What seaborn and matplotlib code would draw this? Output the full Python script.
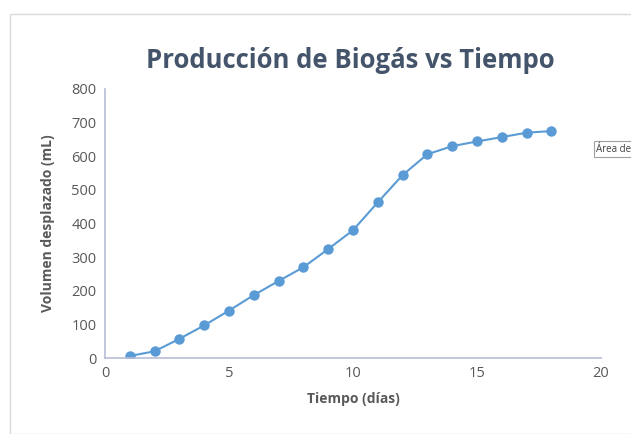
import matplotlib.pyplot as plt
import seaborn as sns
import pandas as pd
from matplotlib.patches import Rectangle

# datos
dias = [1, 2, 3, 4, 5, 6, 7, 8, 9, 10, 11, 12, 13, 14, 15, 16, 17, 18]
volumen = [6, 20, 57, 97, 141, 187, 229, 270, 324, 380, 463, 544, 606, 630, 644, 657, 670, 675]
xticks = [0, 5, 10, 15, 20]
yticks = [0, 100, 200, 300, 400, 500, 600, 700, 800]

df = pd.DataFrame({"Tiempo": dias, "Volumen": volumen})

sns.set_style("white")
plt.rcParams['font.family'] = ['Open Sans', 'DejaVu Sans']

fig = plt.figure(figsize=(6.31, 4.34), dpi=100)
ax = fig.add_axes([105/631, 1 - 358/434, 496/631, 269/434])

sns.lineplot(data=df, x="Tiempo", y="Volumen", marker="o", color="#5b9bd5",
             linewidth=1.5, markersize=7.5, markeredgewidth=0, ax=ax)

ax.set_xlim(0, 20)
ax.set_ylim(0, 800)
ax.set_xticks(xticks)
ax.set_yticks(yticks)
ax.tick_params(axis='both', labelsize=10.5, colors='#595959', length=0, pad=6)

for s in ['top', 'right']:
    ax.spines[s].set_visible(False)
for s in ['left', 'bottom']:
    ax.spines[s].set_color('#b8bcd8')
    ax.spines[s].set_linewidth(1.2)

ax.set_xlabel("Tiempo (días)", fontsize=10, fontweight='bold', color='#595959', labelpad=8)
ax.set_ylabel("Volumen desplazado (mL)", fontsize=10, fontweight='bold', color='#595959', labelpad=12)

fig.text(350/631, 1 - 60/434, "Producción de Biogás vs Tiempo", ha='center', va='center',
         fontsize=18.5, fontweight='bold', color='#44546a')

# marco del area del grafico
fig.patches.append(Rectangle((10/631, 0), 1, 1 - 14/434, transform=fig.transFigure,
                             fill=False, edgecolor='#d9d9d9', linewidth=1))

# etiqueta emergente recortada
fig.text(596/631, 1 - 149/434, "Área de", ha='left', va='center', fontsize=7, color='#404040',
         bbox=dict(boxstyle='square,pad=0.25', facecolor='white', edgecolor='#a0a0a0', linewidth=0.8))

fig.savefig("out.png", dpi=100)
